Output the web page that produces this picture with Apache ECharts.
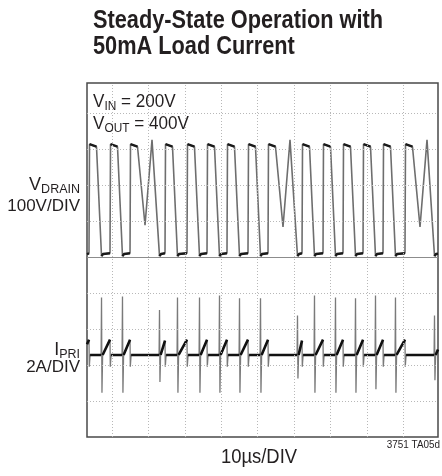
<!DOCTYPE html>
<html>
<head>
<meta charset="utf-8">
<script src="https://cdn.jsdelivr.net/npm/echarts@6/dist/echarts.min.js"></script>
<style>
  html, body { margin: 0; padding: 0; background: #fff; }
  #chart { width: 442px; height: 476px; }
</style>
</head>
<body>
<div id="chart"></div>
<script>
// Scope capture: flyback drain voltage (100V/DIV) and primary current (2A/DIV), 10µs/DIV.

// Time axis (µs) and graticule positions
const timeMin = -6.87;
const timeMax = 89.56;
const timeGrid = [0, 10, 20, 30, 40, 50, 60, 70, 80];

// Screen divisions, centre line at 0
const divMin = -5;
const divMax = 4.833;
const divGrid = [-4, -3, -2, -1, 1, 2, 3, 4];

// Channel scales (value range shown on screen)
const drainMin = -508.3, drainMax = 475;   // volts, 100V/DIV
const priMin = -4.556, priMax = 15.11;     // amps, 2A/DIV

// V_DRAIN trace vertices [µs, V]
const drainTrace = [
  [-6.87, 0], [-6.32, 2], [-6.18, 305], [-4.26, 298], [-2.88, -6], [-2.47, 0],
  [-0.55, 2], [-0.41, 305], [1.51, 298], [2.88, -6], [3.30, 0],
  [4.95, 2], [5.08, 305], [7.01, 298], [9.07, 80], [10.99, 317], [13.05, -6], [13.46, 0],
  [14.56, 2], [14.70, 305], [16.62, 298], [17.99, -6], [18.41, 0],
  [20.60, 2], [20.74, 305], [22.66, 298], [24.04, -6], [24.45, 0],
  [26.10, 2], [26.24, 305], [28.16, 298], [29.53, -6], [29.95, 0],
  [31.59, 2], [31.73, 305], [33.65, 298], [35.03, -6], [35.44, 0],
  [37.36, 2], [37.50, 305], [39.42, 298], [40.80, -6], [41.21, 0],
  [42.86, 2], [42.99, 305], [44.92, 298], [46.98, 75], [48.90, 317], [50.96, -6], [51.37, 0],
  [52.20, 2], [52.34, 305], [54.26, 298], [55.63, -6], [56.04, 0],
  [57.97, 2], [58.10, 305], [60.03, 298], [61.40, -6], [61.81, 0],
  [63.46, 2], [63.60, 305], [65.52, 298], [66.90, -6], [67.31, 0],
  [68.96, 2], [69.09, 305], [71.02, 298], [72.39, -6], [72.80, 0],
  [74.45, 2], [74.59, 305], [76.51, 298], [77.88, -6], [78.30, 0],
  [80.49, 2], [80.63, 305], [82.55, 298], [84.62, 75], [86.54, 317], [88.60, -6], [89.01, 0], [89.56, 1]
];

// I_PRI trace vertices [µs, A]
const priTrace = [
  [-6.87, 0.6], [-6.32, 0.85], [-6.24, -0.65], [-6.02, 0],
  [-3.00, 0], [-2.88, 3.2], [-2.76, -2.1], [-2.58, 0], [-2.38, 0.1], [-0.55, 0.85], [-0.47, -0.65], [-0.25, 0],
  [2.76, 0], [2.88, 3.25], [3.00, -2.1], [3.18, 0], [3.38, 0.1], [4.95, 0.85], [5.03, -0.65], [5.25, 0],
  [12.93, 0], [13.05, 2.5], [13.17, -1.5], [13.35, 0], [13.55, 0.1], [14.56, 0.8], [14.64, -0.65], [14.86, 0],
  [17.87, 0], [17.99, 3.2], [18.11, -2.1], [18.29, 0], [18.49, 0.1], [20.60, 0.85], [20.68, -0.65], [20.90, 0],
  [23.92, 0], [24.04, 3.2], [24.16, -2.1], [24.34, 0], [24.54, 0.1], [26.10, 0.85], [26.18, -0.65], [26.40, 0],
  [29.41, 0], [29.53, 3.3], [29.65, -2.1], [29.83, 0], [30.03, 0.1], [31.59, 0.85], [31.67, -0.65], [31.89, 0],
  [34.91, 0], [35.03, 3.15], [35.15, -2.1], [35.33, 0], [35.53, 0.1], [37.36, 0.85], [37.44, -0.65], [37.66, 0],
  [40.68, 0], [40.80, 3.15], [40.92, -2.1], [41.10, 0], [41.30, 0.1], [42.86, 0.85], [42.94, -0.65], [43.16, 0],
  [50.84, 0], [50.96, 2.2], [51.08, -1.3], [51.26, 0], [51.46, 0.1], [52.20, 0.8], [52.28, -0.65], [52.50, 0],
  [55.51, 0], [55.63, 3.3], [55.75, -2.1], [55.93, 0], [56.13, 0.1], [57.97, 0.85], [58.05, -0.65], [58.27, 0],
  [61.28, 0], [61.40, 3.2], [61.52, -2.1], [61.70, 0], [61.90, 0.1], [63.46, 0.85], [63.54, -0.65], [63.76, 0],
  [66.78, 0], [66.90, 3.15], [67.02, -2.1], [67.20, 0], [67.40, 0.1], [68.96, 0.85], [69.04, -0.65], [69.26, 0],
  [72.27, 0], [72.39, 3.3], [72.51, -1.9], [72.69, 0], [72.89, 0.1], [74.45, 0.85], [74.53, -0.65], [74.75, 0],
  [77.76, 0], [77.88, 3.2], [78.00, -2.1], [78.18, 0], [78.38, 0.1], [80.49, 0.85], [80.57, -0.65], [80.79, 0],
  [88.48, 0], [88.60, 2.2], [88.72, -1.4], [88.90, 0], [89.10, 0.1], [89.56, 0.3]
];

// Slow parts of a trace (flat tops, baseline) show up darker on the scope screen.
function dwellSegments(trace, maxSlope) {
  const out = [];
  let open = false;
  for (let i = 0; i < trace.length - 1; i++) {
    const a = trace[i], b = trace[i + 1];
    const slope = Math.abs((b[1] - a[1]) / (b[0] - a[0]));
    if (slope <= maxSlope) {
      if (!open) out.push(a);
      out.push(b);
      open = true;
    } else if (open) {
      out.push(null);
      open = false;
    }
  }
  return out;
}

const font = "'Liberation Sans', 'Helvetica', sans-serif";
const ink = '#231f20';

// Label with a subscript part, e.g. V + IN
function subLabel(main, sub, rest) {
  return {
    text: '{m|' + main + '}{s|' + sub + '}' + (rest ? '{m|' + rest + '}' : ''),
    textVerticalAlign: 'middle', fill: ink,
    rich: {
      m: { fontFamily: font, fontSize: 18, lineHeight: 22, fill: ink },
      s: { fontFamily: font, fontSize: 12.5, lineHeight: 12, verticalAlign: 'bottom', fill: ink }
    }
  };
}

const chart = echarts.init(document.getElementById('chart'), null, { renderer: 'canvas' });

chart.setOption({
  animation: false,
  backgroundColor: '#fff',
  grid: {
    left: 87, top: 83, width: 351, height: 354,
    show: true, borderColor: '#4a4a4a', borderWidth: 1.5, backgroundColor: '#fff'
  },
  xAxis: { type: 'value', min: timeMin, max: timeMax, show: false },
  yAxis: [
    { type: 'value', min: drainMin, max: drainMax, show: false },
    { type: 'value', min: priMin, max: priMax, show: false },
    { type: 'value', min: divMin, max: divMax, show: false }
  ],
  series: [
    {
      name: 'graticule', type: 'line', yAxisIndex: 2, data: [], silent: true,
      markLine: {
        silent: true, symbol: ['none', 'none'], label: { show: false }, animation: false,
        lineStyle: { color: '#b8b8b8', type: [1, 2], width: 1 },
        data: [
          ...timeGrid.map(t => ({ xAxis: t })),
          ...divGrid.map(d => ({ yAxis: d })),
          { yAxis: 0, lineStyle: { type: 'solid', color: '#8c8c8c', width: 1 } }
        ]
      }
    },
    {
      name: 'V_DRAIN', type: 'line', yAxisIndex: 0, data: drainTrace,
      showSymbol: false, lineStyle: { color: '#6e6e6e', width: 1.6 }, z: 3
    },
    {
      name: 'V_DRAIN dwell', type: 'line', yAxisIndex: 0, data: dwellSegments(drainTrace, 20),
      showSymbol: false, connectNulls: false, lineStyle: { color: '#1a1a1a', width: 2.4 }, z: 4
    },
    {
      name: 'I_PRI', type: 'line', yAxisIndex: 1, data: priTrace,
      showSymbol: false, lineStyle: { color: '#7a7a7a', width: 1.3 }, z: 3
    },
    {
      name: 'I_PRI dwell', type: 'line', yAxisIndex: 1, data: dwellSegments(priTrace, 1),
      showSymbol: false, connectNulls: false, lineStyle: { color: '#111', width: 2.6 }, z: 4
    }
  ],
  graphic: [
    { type: 'rect', z: 5, shape: { x: 88, y: 84, width: 102, height: 52 }, style: { fill: '#fff' } },
    {
      type: 'text', z: 10, x: 93, y: 21, scaleX: 0.87,
      style: { text: 'Steady-State Operation with', font: 'bold 25px ' + font, fill: ink, textVerticalAlign: 'middle' }
    },
    {
      type: 'text', z: 10, x: 93, y: 47, scaleX: 0.87,
      style: { text: '50mA Load Current', font: 'bold 25px ' + font, fill: ink, textVerticalAlign: 'middle' }
    },
    { type: 'text', z: 10, x: 93, y: 102, scaleX: 0.95, style: subLabel('V', 'IN', ' = 200V') },
    { type: 'text', z: 10, x: 93, y: 124, scaleX: 0.95, style: subLabel('V', 'OUT', ' = 400V') },
    { type: 'text', z: 10, x: 80, y: 185, style: Object.assign(subLabel('V', 'DRAIN'), { textAlign: 'right' }) },
    {
      type: 'text', z: 10, x: 80, y: 206,
      style: { text: '100V/DIV', font: '17px ' + font, fill: ink, textAlign: 'right', textVerticalAlign: 'middle' }
    },
    { type: 'text', z: 10, x: 80, y: 350, style: Object.assign(subLabel('I', 'PRI'), { textAlign: 'right' }) },
    {
      type: 'text', z: 10, x: 80, y: 367,
      style: { text: '2A/DIV', font: '17px ' + font, fill: ink, textAlign: 'right', textVerticalAlign: 'middle' }
    },
    {
      type: 'text', z: 10, x: 259, y: 457, scaleX: 0.92,
      style: { text: '10µs/DIV', font: '20px ' + font, fill: ink, textAlign: 'center', textVerticalAlign: 'middle' }
    },
    {
      type: 'text', z: 10, x: 440, y: 445, scaleX: 0.9,
      style: { text: '3751 TA05d', font: '11px ' + font, fill: ink, textAlign: 'right', textVerticalAlign: 'middle' }
    }
  ]
});
</script>
</body>
</html>
